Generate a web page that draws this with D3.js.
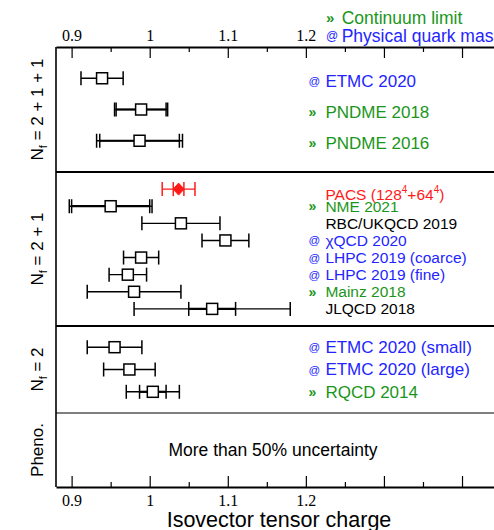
<!DOCTYPE html>
<html>
<head>
<meta charset="utf-8">
<script src="https://cdn.jsdelivr.net/npm/d3@7/dist/d3.min.js"></script>
<style>
  body { margin: 0; background: #fff; }
  svg { font-family: "Liberation Sans", Arial, sans-serif; display: block; }
  .tick text { font-family: "Liberation Serif", "Times New Roman", serif; }
</style>
</head>
<body>
<div id="chart"></div>
<script>
// Data
var groupNames = ["2 + 1 + 1", "2 + 1", "2", "Pheno."];

// kind: "cont" = continuum limit (»), "phys" = physical quark mass (@), "new" = this work
var names1 = ["ETMC 2020", "PNDME 2018", "PNDME 2016"];
var kinds1 = ["phys", "cont", "cont"];
var values1 = [0.939, 0.989, 0.987];
var statErr1 = [null, 0.032, 0.051];
var totalErr1 = [0.027, 0.034, 0.055];

var names2 = ["PACS (128", "NME 2021", "RBC/UKQCD 2019", "χQCD 2020", "LHPC 2019 (coarce)", "LHPC 2019 (fine)", "Mainz 2018", "JLQCD 2018"];
var kinds2 = ["new", "cont", "", "phys", "phys", "phys", "cont", ""];
var values2 = [1.037, 0.95, 1.04, 1.097, 0.989, 0.972, 0.98, 1.08];
var statErr2 = [0.0068, 0.05, null, null, null, null, null, 0.03];
var totalErr2 = [0.021, 0.053, 0.05, 0.03, 0.0225, 0.024, 0.06, 0.1];

var names3 = ["ETMC 2020 (small)", "ETMC 2020 (large)", "RQCD 2014"];
var kinds3 = ["phys", "phys", "cont"];
var values3 = [0.955, 0.974, 1.004];
var statErr3 = [null, null, 0.017];
var totalErr3 = [0.035, 0.033, 0.034];

var phenoNote = "More than 50% uncertainty";
var tickValues = [0.9, 0.95, 1, 1.05, 1.1, 1.15, 1.2, 1.25, 1.3, 1.35, 1.4, 1.45];
var labelledTicks = [0.9, 1, 1.1, 1.2];
var xTitle = "Isovector tensor charge";

function rows(names, kinds, values, stat, total) {
  return names.map((n, i) => ({ name: n, kind: kinds[i], value: values[i], stat: stat[i], total: total[i] }));
}

var groups = [
  { rows: rows(names1, kinds1, values1, statErr1, totalErr1), font: 17, pad: 1 },
  { rows: rows(names2, kinds2, values2, statErr2, totalErr2), font: 15.5, pad: 1 },
  { rows: rows(names3, kinds3, values3, statErr3, totalErr3), font: 17, pad: 0.95 },
  { rows: [], font: 17, pad: 1 },
];

var COLORS = { cont: "#1a961a", phys: "#2424ff", new: "#ff1a1a", "": "#000" };
var TAGS = { cont: "»", phys: "@" };

// Setup
var width = 494;
var height = 530;
var margins = { top: 47, left: 56 };
var plotBottom = 487;
var panelHeights = [125, 154, 87, 74];

var svg = d3.select("#chart").append("svg").attr("width", width).attr("height", height);

var xScale = d3.scaleLinear().domain([0.88, 1.48]).range([margins.left, margins.left + 0.6 * 780.8]);

// Panel boundaries
var bounds = [margins.top];
panelHeights.forEach((h) => bounds.push(bounds[bounds.length - 1] + h));

// Axes
var fmt = (d) => (labelledTicks.some((t) => Math.abs(t - d) < 1e-9) ? d3.format("")(+d.toFixed(2)) : "");
var isMajor = (d) => Math.abs(Math.round(d * 10) - d * 10) < 1e-6;

var topAxis = svg
  .append("g")
  .attr("transform", `translate(0,${margins.top})`)
  .call(d3.axisTop(xScale).tickValues(tickValues).tickSizeInner(-11).tickSizeOuter(0).tickPadding(6.5).tickFormat(fmt));

var bottomAxis = svg
  .append("g")
  .attr("transform", `translate(0,${plotBottom})`)
  .call(d3.axisBottom(xScale).tickValues(tickValues).tickSizeInner(-11).tickSizeOuter(0).tickPadding(7.5).tickFormat(fmt));

[topAxis, bottomAxis].forEach(function (ax) {
  ax.select(".domain").attr("stroke-width", 2);
  ax.selectAll(".tick line").attr("stroke-width", 1.2);
  ax.selectAll(".tick text").attr("font-size", 16).attr("fill", "#000");
  ax.selectAll(".tick")
    .filter((d) => !isMajor(d))
    .select("line")
    .attr("y2", function () {
      return +d3.select(this).attr("y2") > 0 ? 5 : -5;
    });
});
topAxis.selectAll(".tick line").attr("y2", function () {
  return Math.abs(+d3.select(this).attr("y2"));
});

// Frame and separators
svg.append("line")
  .attr("x1", margins.left).attr("x2", margins.left)
  .attr("y1", margins.top).attr("y2", plotBottom)
  .attr("stroke", "#000").attr("stroke-width", 1.6);

bounds.slice(1, 4).forEach(function (b, i) {
  svg.append("line")
    .attr("x1", margins.left).attr("x2", width)
    .attr("y1", b).attr("y2", b)
    .attr("stroke", "#000").attr("stroke-width", i < 2 ? 2 : 1.2);
});

// Group labels on the left
groupNames.forEach(function (g, i) {
  var cy = (bounds[i] + bounds[i + 1]) / 2;
  var t = svg.append("text")
    .attr("transform", `translate(43,${cy}) rotate(-90)`)
    .attr("text-anchor", "middle")
    .attr("font-size", 17);
  if (i < 3) {
    t.append("tspan").text("N");
    t.append("tspan").attr("font-size", 11).attr("dy", 4).text("f");
    t.append("tspan").attr("dy", -4).text(" = " + g);
  } else {
    t.text(g);
  }
});

// Legend at the top
var legend = [{ kind: "cont", text: "Continuum limit", y: 18 }, { kind: "phys", text: "Physical quark mass", y: 36 }];
legend.forEach(function (l) {
  svg.append("text").attr("x", 326).attr("y", l.y).attr("dy", "0.35em")
    .attr("fill", COLORS[l.kind]).attr("font-size", l.kind == "cont" ? 15 : 12).attr("font-weight", l.kind == "cont" ? "bold" : "normal")
    .text(TAGS[l.kind]);
  svg.append("text").attr("x", 341.7).attr("y", l.y).attr("dy", "0.35em")
    .attr("fill", COLORS[l.kind]).attr("font-size", 17.5)
    .text(l.text);
});

// Points
var labelX = xScale(1.225);

groups.forEach(function (grp, gi) {
  if (!grp.rows.length) return;
  var yScale = d3.scalePoint()
    .domain(grp.rows.map((d) => d.name))
    .range([bounds[gi], bounds[gi + 1]])
    .padding(grp.pad);

  var rowEl = svg.append("g").selectAll("g")
    .data(grp.rows)
    .enter()
    .append("g")
    .attr("transform", (d) => `translate(0,${yScale(d.name)})`);

  var color = (d) => (d.kind == "new" ? COLORS.new : "#000");

  // total error
  rowEl.append("line")
    .attr("x1", (d) => xScale(d.value - d.total)).attr("x2", (d) => xScale(d.value + d.total))
    .attr("stroke", color).attr("stroke-width", 1.4);
  rowEl.filter((d) => d.stat != null).append("line")
    .attr("x1", (d) => xScale(d.value - d.stat)).attr("x2", (d) => xScale(d.value + d.stat))
    .attr("stroke", color).attr("stroke-width", 2.2);

  // caps
  rowEl.each(function (d) {
    var caps = [d.value - d.total, d.value + d.total];
    if (d.stat != null) caps.push(d.value - d.stat, d.value + d.stat);
    d3.select(this).selectAll("line.cap").data(caps).enter().append("line")
      .attr("class", "cap")
      .attr("x1", (c) => xScale(c)).attr("x2", (c) => xScale(c))
      .attr("y1", -7).attr("y2", 7)
      .attr("stroke", color(d)).attr("stroke-width", 1.5);
  });

  // markers
  rowEl.filter((d) => d.kind != "new").append("rect")
    .attr("x", (d) => xScale(d.value) - 5.5).attr("y", -5.5)
    .attr("width", 11).attr("height", 11)
    .attr("fill", "#fff").attr("stroke", "#000").attr("stroke-width", 1.5);
  rowEl.filter((d) => d.kind == "new").append("path")
    .attr("d", (d) => {
      var cx = xScale(d.value);
      return `M${cx - 5.5},0L${cx},-6L${cx + 5.5},0L${cx},6Z`;
    })
    .attr("fill", COLORS.new).attr("stroke", COLORS.new);

  // labels
  rowEl.each(function (d, i) {
    var ly = gi == 1 && d.kind == "new" ? 5 : gi == 0 ? 2.5 : 0;
    var el = d3.select(this);
    if (TAGS[d.kind]) {
      el.append("text").attr("x", labelX - 17).attr("y", ly).attr("dy", "0.35em")
        .attr("fill", COLORS[d.kind])
        .attr("font-size", d.kind == "cont" ? 14 : 11.5)
        .attr("font-weight", d.kind == "cont" ? "bold" : "normal")
        .text(TAGS[d.kind]);
    }
    var t = el.append("text").attr("x", labelX).attr("y", ly).attr("dy", "0.35em")
      .attr("fill", COLORS[d.kind]).attr("font-size", grp.font);
    if (d.kind == "new") {
      t.append("tspan").text(d.name);
      t.append("tspan").attr("font-size", 10).attr("dy", -7).text("4");
      t.append("tspan").attr("dy", 7).text("+64");
      t.append("tspan").attr("font-size", 10).attr("dy", -7).text("4");
      t.append("tspan").attr("dy", 7).text(")");
    } else {
      t.text(d.name);
    }
  });
});

// Pheno note
svg.append("text")
  .attr("x", xScale(1.158)).attr("y", (bounds[3] + bounds[4]) / 2)
  .attr("dy", "0.35em").attr("text-anchor", "middle")
  .attr("font-size", 17.5)
  .text(phenoNote);

// X title
svg.append("text")
  .attr("x", 279).attr("y", 527)
  .attr("text-anchor", "middle")
  .attr("font-size", 21.5)
  .text(xTitle);
</script>
</body>
</html>
